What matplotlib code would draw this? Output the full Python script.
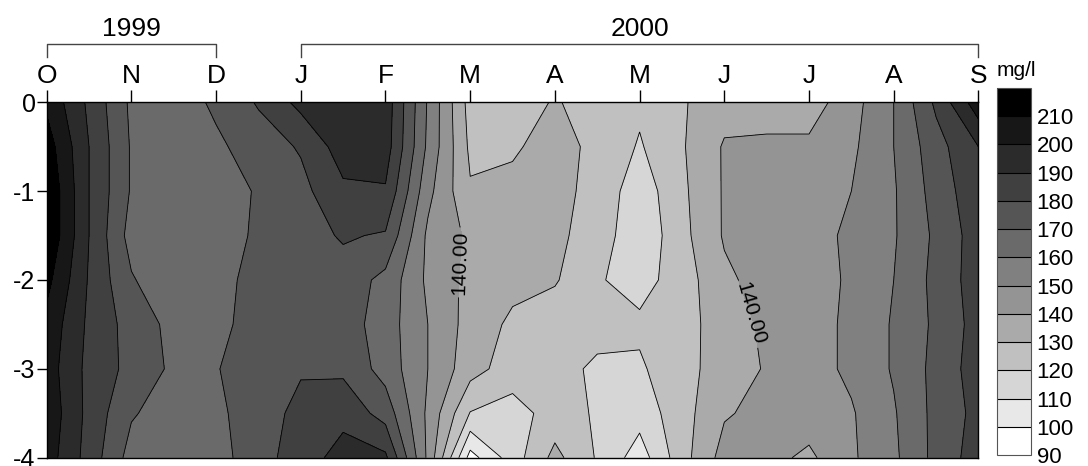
import numpy as np
import matplotlib
matplotlib.use("Agg")
import matplotlib.pyplot as plt
from matplotlib.transforms import blended_transform_factory

plt.rcParams["font.family"] = ["Liberation Sans", "DejaVu Sans"]
plt.rcParams["axes.unicode_minus"] = False

# month labels along the top (Oct 1999 .. Sep 2000)
month_labels = ["O", "N", "D", "J", "F", "M", "A", "M", "J", "J", "A", "S"]
year_labels = ["1999", "2000"]
year_first_month = [0, 3]
year_last_month = [2, 11]

# sampling grid: months since October (half-month steps), depth in m
sample_month = [0, 0.5, 1, 1.5, 2, 2.5, 3, 3.5, 4, 4.5, 5, 5.5,
                6, 6.5, 7, 7.5, 8, 8.5, 9, 9.5, 10, 10.5, 11]
depth = [0, -0.5, -1, -1.5, -2, -2.5, -3, -3.5, -4]

# concentration (mg/l), one list per depth
conc_d00 = [208, 188, 168, 164, 172, 181, 193, 197, 196, 159, 126, 124,
            131, 125, 122, 129, 136, 135, 135, 146, 160, 182, 206]
conc_d05 = [215, 190, 169, 162, 168, 175, 181, 195, 195, 158, 128, 129,
            133, 128, 119, 129, 141, 142, 142, 148, 160, 176, 190]
conc_d10 = [219, 190, 169, 162, 165, 171, 177, 188, 189, 153, 131, 132,
            133, 127, 114, 128, 141, 145, 147, 150, 159, 174, 187]
conc_d15 = [219, 190, 166, 161, 164, 172, 176, 181, 179, 148, 138, 135,
            132, 126, 112, 127, 141, 145, 148, 151, 159, 172, 185]
conc_d20 = [213, 189, 171, 162, 167, 173, 176, 176, 167, 148, 137, 133,
            131, 121, 116, 125, 138, 144, 147, 151, 160, 173, 185]
conc_d25 = [207, 188, 176, 167, 168, 173, 177, 175, 165, 150, 136, 128,
            124, 122, 122, 126, 135, 142, 146, 152, 161, 172, 184]
conc_d30 = [205, 187, 177, 168, 169.5, 175, 179, 178, 166, 150, 134, 125,
            122, 119, 118.5, 127, 134, 141, 146, 152, 161, 173, 185]
conc_d35 = [207, 187, 171, 165, 168, 175, 183, 187, 176, 148, 119.5, 116,
            124, 119, 114, 126, 139, 143, 145, 149, 159, 173, 183]
conc_d40 = [205, 186, 166, 162, 166, 176, 185, 194, 192, 148, 96, 115,
            133, 119, 105, 126, 144, 143, 138, 148.5, 158, 173, 185]

levels = [90, 100, 110, 120, 130, 140, 150, 160, 170, 180, 190, 200, 210, 220]
labelled_level = 140
grays = ["#ffffff", "#e8e8e8", "#d6d6d6", "#c0c0c0", "#aaaaaa", "#949494",
         "#808080", "#6a6a6a", "#555555", "#404040", "#2b2b2b", "#171717",
         "#000000"]

Z = np.array([conc_d00, conc_d05, conc_d10, conc_d15, conc_d20,
              conc_d25, conc_d30, conc_d35, conc_d40])
X, Y = np.meshgrid(sample_month, depth)

fig = plt.figure(figsize=(10.88, 4.66), dpi=100)
ax = fig.add_axes([0.0429, 0.0178, 0.8564, 0.7627])
cax = fig.add_axes([0.9164, 0.0236, 0.0313, 0.7875])

cf = ax.contourf(X, Y, Z, levels=levels, colors=grays)
other_levels = [lv for lv in levels if lv != labelled_level]
ax.contour(X, Y, Z, levels=other_levels, colors="k", linewidths=0.6)
cs = ax.contour(X, Y, Z, levels=[labelled_level], colors="k", linewidths=0.6)
ax.clabel(cs, fmt="%.2f", fontsize=15, inline=True, inline_spacing=3,
          manual=[(4.86, -1.8), (8.25, -2.4)])

ax.set_xlim(0, 11)
ax.set_ylim(-4, 0)
ax.xaxis.tick_top()
ax.set_xticks(range(len(month_labels)))
ax.set_xticklabels(month_labels)
ax.set_yticks([0, -1, -2, -3, -4])
ax.set_yticklabels(["0", "-1", "-2", "-3", "-4"])
ax.tick_params(axis="x", direction="out", length=9, width=1, pad=1,
               labelsize=19)
ax.tick_params(axis="y", direction="out", length=7, width=1, pad=1,
               labelsize=18)
for sp in ax.spines.values():
    sp.set_linewidth(1.0)

# year brackets above the month letters
trans = blended_transform_factory(ax.transData, fig.transFigure)
y_bar = 1 - 44 / 466
y_foot = 1 - 57 / 466
for lab, m0, m1 in zip(year_labels, year_first_month, year_last_month):
    ax.plot([m0, m0, m1, m1], [y_foot, y_bar, y_bar, y_foot],
            color="#444444", lw=1, transform=trans, clip_on=False)
    ax.text((m0 + m1) / 2, 1 - 29 / 466, lab, transform=trans,
            ha="center", va="center", fontsize=19)

cbar = fig.colorbar(cf, cax=cax, ticks=levels[:-1], drawedges=True)
cbar.outline.set_linewidth(0.8)
cbar.outline.set_edgecolor("#555555")
cbar.dividers.set_color("k")
cbar.dividers.set_linewidth(0.8)
cax.tick_params(length=0, pad=4, labelsize=16)
fig.text(0.9164, 1 - 71 / 466, "mg/l", ha="left", va="center", fontsize=15)

fig.savefig("out.png", dpi=100)
